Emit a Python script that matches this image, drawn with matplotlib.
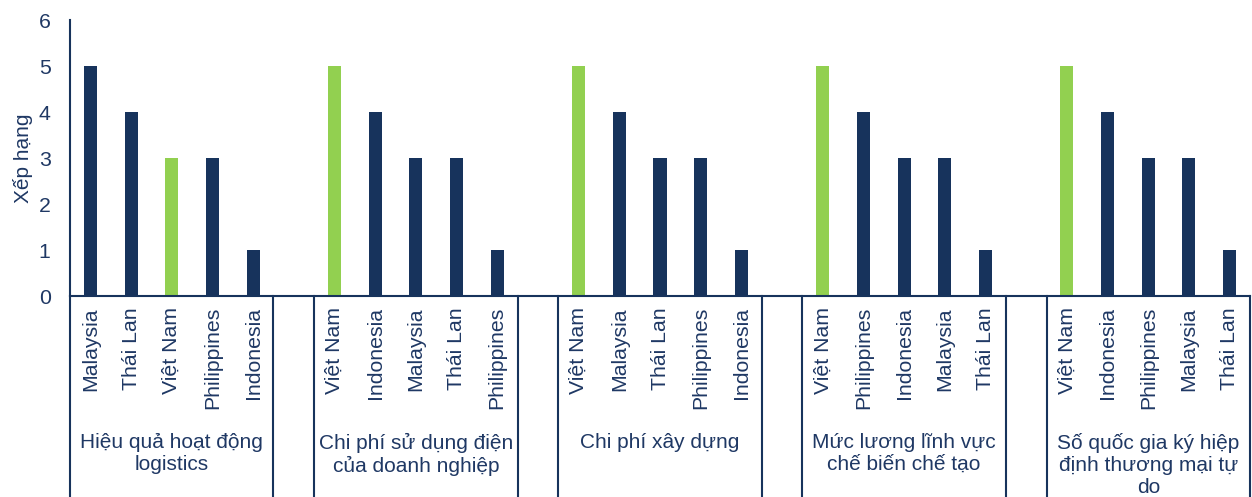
import numpy as np
import matplotlib
matplotlib.use("Agg")
from matplotlib import pyplot as plt
from matplotlib.transforms import blended_transform_factory

plt.rcParams['font.family'] = ['Liberation Sans', 'DejaVu Sans']

groups = ["Hiệu quả hoạt động\nlogistics",
          "Chi phí sử dụng điện\ncủa doanh nghiệp",
          "Chi phí xây dựng",
          "Mức lương lĩnh vực\nchế biến chế tạo",
          "Số quốc gia ký hiệp\nđịnh thương mại tự\ndo"]
countries = [["Malaysia", "Thái Lan", "Việt Nam", "Philippines", "Indonesia"],
             ["Việt Nam", "Indonesia", "Malaysia", "Thái Lan", "Philippines"],
             ["Việt Nam", "Malaysia", "Thái Lan", "Philippines", "Indonesia"],
             ["Việt Nam", "Philippines", "Indonesia", "Malaysia", "Thái Lan"],
             ["Việt Nam", "Indonesia", "Philippines", "Malaysia", "Thái Lan"]]
ranks = [[5, 4, 3, 3, 1],
         [5, 4, 3, 3, 1],
         [5, 4, 3, 3, 1],
         [5, 4, 3, 3, 1],
         [5, 4, 3, 3, 1]]

NAVY = "#17335C"
GREEN = "#92D050"
TEXT = "#1F3864"

fig = plt.figure(figsize=(12.52, 4.97), dpi=100)
ax = fig.add_axes([70 / 1252, (497 - 296) / 497, 1180 / 1252, 276 / 497])

# each group takes 5 slots, one empty slot between groups
xs, labels, heights, colors = [], [], [], []
for g in range(len(groups)):
    for k in range(5):
        xs.append(g * 6 + k)
        labels.append(countries[g][k])
        heights.append(ranks[g][k])
        colors.append(GREEN if countries[g][k] == "Việt Nam" else NAVY)

ax.bar(xs, heights, width=0.32, color=colors)
ax.set_xlim(-0.5, len(groups) * 6 - 1 - 0.5)
ax.set_ylim(0, 6)
ax.set_yticks(range(7))
ax.set_xticks(xs)
ax.set_xticklabels(labels, rotation=90, fontsize=15.3, color=TEXT)
ax.tick_params(axis='both', length=0, colors=TEXT, labelsize=15.3)
ax.tick_params(axis='x', pad=8)
ax.tick_params(axis='y', pad=14)
ax.set_ylabel("Xếp hạng", fontsize=15, color=TEXT, labelpad=4)

for s in ["top", "right"]:
    ax.spines[s].set_visible(False)
for s in ["left", "bottom"]:
    ax.spines[s].set_color(NAVY)
    ax.spines[s].set_linewidth(1.5)

trans = blended_transform_factory(ax.transData, ax.transAxes)
for g in range(len(groups)):
    left = g * 6 - 0.5
    right = g * 6 + 4.5
    for xb in (left, right):
        ax.plot([xb, xb], [0, -0.75], color=NAVY, lw=1.5,
                transform=trans, clip_on=False)
    ax.text(g * 6 + 2, -0.495, groups[g], transform=trans, ha='center',
            va='top', fontsize=15, color=TEXT, linespacing=1.22)

fig.savefig("out.png", dpi=100)
